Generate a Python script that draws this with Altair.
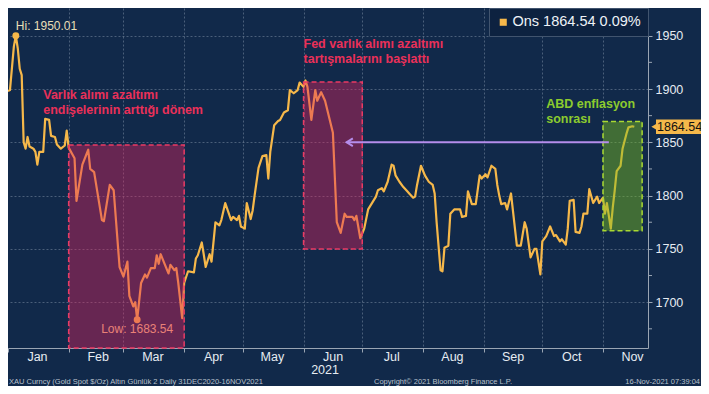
import altair as alt
import pandas as pd

# ---------------- data ----------------
dates = [
    "2021-01-01", "2021-01-02", "2021-01-04", "2021-01-05", "2021-01-06", "2021-01-07", "2021-01-08",
    "2021-01-09", "2021-01-10", "2021-01-11", "2021-01-12", "2021-01-14", "2021-01-15", "2021-01-16",
    "2021-01-17", "2021-01-19", "2021-01-20", "2021-01-22", "2021-01-23", "2021-01-25", "2021-01-26",
    "2021-01-28", "2021-01-30", "2021-01-31", "2021-02-01", "2021-02-04", "2021-02-05", "2021-02-08",
    "2021-02-11", "2021-02-12", "2021-02-14", "2021-02-18", "2021-02-19", "2021-02-22", "2021-02-24",
    "2021-02-27", "2021-03-01", "2021-03-03", "2021-03-04", "2021-03-06", "2021-03-07", "2021-03-08",
    "2021-03-10", "2021-03-12", "2021-03-13", "2021-03-15", "2021-03-17", "2021-03-18", "2021-03-19",
    "2021-03-20", "2021-03-22", "2021-03-24", "2021-03-25", "2021-03-27", "2021-03-28", "2021-03-29",
    "2021-03-31", "2021-04-01", "2021-04-03", "2021-04-06", "2021-04-07", "2021-04-08", "2021-04-10",
    "2021-04-11", "2021-04-12", "2021-04-14", "2021-04-15", "2021-04-17", "2021-04-19", "2021-04-20",
    "2021-04-22", "2021-04-25", "2021-04-26", "2021-04-28", "2021-04-29", "2021-04-30", "2021-05-02",
    "2021-05-03", "2021-05-05", "2021-05-06", "2021-05-07", "2021-05-09", "2021-05-11", "2021-05-13",
    "2021-05-14", "2021-05-15", "2021-05-17", "2021-05-19", "2021-05-20", "2021-05-22", "2021-05-24",
    "2021-05-25", "2021-05-27", "2021-05-29", "2021-05-30", "2021-06-01", "2021-06-02", "2021-06-03",
    "2021-06-05", "2021-06-07", "2021-06-08", "2021-06-10", "2021-06-12", "2021-06-16", "2021-06-18",
    "2021-06-20", "2021-06-22", "2021-06-23", "2021-06-26", "2021-06-27", "2021-06-28", "2021-06-30",
    "2021-07-02", "2021-07-04", "2021-07-08", "2021-07-09", "2021-07-11", "2021-07-12", "2021-07-14",
    "2021-07-16", "2021-07-17", "2021-07-18", "2021-07-20", "2021-07-22", "2021-07-24", "2021-07-25",
    "2021-07-27", "2021-07-28", "2021-07-29", "2021-07-31", "2021-08-02", "2021-08-04", "2021-08-06",
    "2021-08-07", "2021-08-08", "2021-08-10", "2021-08-11", "2021-08-12", "2021-08-14", "2021-08-15",
    "2021-08-17", "2021-08-20", "2021-08-21", "2021-08-23", "2021-08-24", "2021-08-26", "2021-08-28",
    "2021-08-30", "2021-08-31", "2021-09-02", "2021-09-03", "2021-09-05", "2021-09-07", "2021-09-08",
    "2021-09-09", "2021-09-10", "2021-09-12", "2021-09-13", "2021-09-15", "2021-09-18", "2021-09-20",
    "2021-09-22", "2021-09-23", "2021-09-25", "2021-09-27", "2021-09-28", "2021-09-30", "2021-10-01",
    "2021-10-03", "2021-10-05", "2021-10-07", "2021-10-08", "2021-10-10", "2021-10-11", "2021-10-13",
    "2021-10-14", "2021-10-15", "2021-10-17", "2021-10-18", "2021-10-20", "2021-10-21", "2021-10-22",
    "2021-10-24", "2021-10-25", "2021-10-27", "2021-10-29", "2021-10-30", "2021-11-01", "2021-11-02",
    "2021-11-03", "2021-11-05", "2021-11-06", "2021-11-07", "2021-11-08", "2021-11-10", "2021-11-11",
    "2021-11-13", "2021-11-14", "2021-11-16", "2021-11-17",
]
prices = [
    1898, 1899, 1940, 1950.01, 1938, 1919, 1913,
    1850, 1844, 1855, 1846, 1844, 1841, 1829,
    1841, 1841, 1872, 1871, 1856, 1855, 1848,
    1844, 1847, 1861, 1845, 1835, 1795, 1829,
    1843, 1825, 1822, 1777, 1776, 1810, 1805,
    1733, 1724, 1738, 1706, 1696, 1700, 1683.54,
    1718, 1726, 1723, 1732, 1732, 1744, 1736,
    1745, 1736, 1727, 1735, 1730, 1732, 1718,
    1685, 1718, 1729, 1728, 1741, 1744, 1756,
    1745, 1733, 1745, 1738, 1775, 1772, 1777,
    1793, 1777, 1780, 1777, 1781, 1771, 1769,
    1793, 1778, 1786, 1800, 1826, 1837, 1838,
    1816, 1841, 1866, 1870, 1871, 1878, 1880,
    1899, 1896, 1899, 1906, 1902, 1908, 1902,
    1871, 1899, 1889, 1897, 1889, 1859, 1775,
    1765, 1783, 1780, 1780, 1777, 1781, 1760,
    1769, 1787, 1799, 1805, 1807, 1804, 1813,
    1829, 1828, 1819, 1813, 1808, 1804, 1802,
    1798, 1799, 1810, 1828, 1819, 1813, 1810,
    1802, 1775, 1730, 1729, 1751, 1753, 1783,
    1787, 1787, 1780, 1781, 1804, 1792, 1792,
    1819, 1816, 1820, 1817, 1828, 1825, 1810,
    1800, 1792, 1793, 1787, 1802, 1753, 1753,
    1775, 1769, 1742, 1750, 1750, 1726, 1757,
    1762, 1771, 1762, 1763, 1757, 1759, 1754,
    1769, 1795, 1796, 1766, 1765, 1771, 1783,
    1783, 1806, 1793, 1799, 1793, 1798, 1783,
    1793, 1769, 1789, 1805, 1823, 1828, 1844,
    1858, 1864, 1865, 1864.54,
]
series_label = "Ons 1864.54 0.09%"

hilo_dates = ["2021-01-05", "2021-03-08"]
hilo_prices = [1950.01, 1683.54]
hilo_texts = ["Hi: 1950.01", "Low: 1683.54"]

red_starts = ["2021-02-01", "2021-06-01"]
red_ends = ["2021-04-01", "2021-07-01"]
red_lows = [1657, 1750]
red_highs = [1847.5, 1906.5]

green_starts = ["2021-11-01"]
green_ends = ["2021-11-21"]
green_lows = [1767]
green_highs = [1869.5]

arrow_from = ["2021-11-04"]
arrow_to = ["2021-06-23"]
arrow_head = ["2021-06-25"]
arrow_level = [1850]

red_note_dates = ["2021-01-19", "2021-06-01"]
red_note_prices = [1900, 1948]
red_note_texts = ["Varlık alımı azaltımı\nendişelerinin arttığı dönem",
                  "Fed varlık alımı azaltımı\ntartışmalarını başlattı"]
green_note_dates = ["2021-10-03"]
green_note_prices = [1892]
green_note_texts = ["ABD enflasyon\nsonrası"]

month_ticks = list(range(1, 12))
y_major = [1700, 1750, 1800, 1850, 1900, 1950]
y_minor = [1675, 1725, 1775, 1825, 1875, 1925]
y_domain = [1657, 1976]

last_price = [1864.54]
tag_lo = [1857.8]
tag_hi = [1871.3]
tag_text = ["1864.54"]

year_date = ["2021-06-12"]
year_text = ["2021"]

footer_left = "XAU Curncy (Gold Spot   $/Oz) Altın Günlük 2  Daily 31DEC2020-16NOV2021"
footer_mid = "Copyright© 2021 Bloomberg Finance L.P."
footer_right = "16-Nov-2021 07:39:04"

# ---------------- style ----------------
W, H = 640, 340
BG = "#11294A"
GOLD = "#F6B84A"
RED_FILL = "#E0245E"
RED_LINE = "#EA3A63"
GREEN_FILL = "#7DC21E"
GREEN_LINE = "#A9D932"
RED_TEXT = "#EA3059"
GREEN_TEXT = "#8CCB2E"
PURPLE = "#B58DEB"
FONT = "Liberation Sans"
AX = "#E6ECF2"
TICK = "#9AA5B3"

line_df = pd.DataFrame({"date": dates, "price": prices, "series": series_label})
hilo_df = pd.DataFrame({"date": hilo_dates, "price": hilo_prices, "text": hilo_texts})
red_df = pd.DataFrame({"start": red_starts, "end": red_ends, "lo": red_lows, "hi": red_highs})
green_df = pd.DataFrame({"start": green_starts, "end": green_ends, "lo": green_lows, "hi": green_highs})
arrow_df = pd.DataFrame({"from": arrow_from, "to": arrow_to, "head": arrow_head, "level": arrow_level})
rnote_df = pd.DataFrame({"date": red_note_dates, "price": red_note_prices, "text": red_note_texts})
gnote_df = pd.DataFrame({"date": green_note_dates, "price": green_note_prices, "text": green_note_texts})
tag_df = pd.DataFrame({"price": last_price, "lo": tag_lo, "hi": tag_hi, "text": tag_text})
year_df = pd.DataFrame({"date": year_date, "text": year_text})
minor_df = pd.DataFrame({"price": y_minor})
foot_df = pd.DataFrame({"text": [footer_left]})
foot_df2 = pd.DataFrame({"text": [footer_mid]})
foot_df3 = pd.DataFrame({"text": [footer_right]})

xs = alt.Scale(type="utc", domain=[alt.DateTime(year=2021, month=1, date=1, utc=True),
                                   alt.DateTime(year=2021, month=11, date=24, utc=True)])
ys = alt.Scale(domain=y_domain, nice=False, zero=False)

xaxis = alt.Axis(
    values=[alt.DateTime(year=2021, month=m, date=1, utc=True) for m in month_ticks],
    format="%b", labelOffset=29, labelFlush=False, labelOverlap=False, labelBound=False,
    tickSize=4, labelPadding=-2, labelFontSize=12.5, title=None,
    gridOpacity={"condition": {"test": "utcmonth(datum.value) === 0", "value": 0}, "value": 0.55},
)
yaxis = alt.Axis(
    orient="right", values=y_major, format="d", tickSize=4, labelPadding=3, labelFontSize=12.5,
    title=None, grid=True, gridOpacity=0.55,
)

X = alt.X("date:T", scale=xs, axis=xaxis, title=None)
Y = alt.Y("price:Q", scale=ys, axis=yaxis, title=None)

line = alt.Chart(line_df).mark_line(strokeWidth=2.2, strokeJoin="round").encode(
    x=X, y=Y,
    color=alt.Color("series:N", scale=alt.Scale(range=[GOLD]),
                    legend=alt.Legend(title=None, orient="top-right", offset=0,
                                      fillColor="#0D2240", strokeColor="#41546E", padding=7,
                                      labelFontSize=14.5, labelColor="#EEF2F7", labelFont=FONT,
                                      symbolType="square", symbolSize=50, symbolFillColor=GOLD,
                                      symbolStrokeColor=GOLD, symbolStrokeWidth=0, labelOffset=2)),
)

minor_ticks = alt.Chart(minor_df).mark_rule(color=TICK, strokeWidth=1).encode(
    x=alt.value(W), x2=alt.value(W + 4), y="price:Q")

hilo_pts = alt.Chart(hilo_df).mark_circle(size=48, color=GOLD, opacity=1).encode(
    x="date:T", y="price:Q")
hi_txt = alt.Chart(hilo_df.iloc[[0]]).mark_text(
    align="left", baseline="bottom", dy=-3, fontSize=12, font=FONT, color="#E8DFB6").encode(
    x="date:T", y="price:Q", text="text:N")
lo_txt = alt.Chart(hilo_df.iloc[[1]]).mark_text(
    align="center", baseline="top", dy=4, fontSize=12, font=FONT, color="#F2C48A").encode(
    x="date:T", y="price:Q", text="text:N")

red_box = alt.Chart(red_df).mark_rect(
    fill=RED_FILL, fillOpacity=0.42, stroke=RED_LINE, strokeDash=[5, 3], strokeWidth=1.5).encode(
    x="start:T", x2="end:T", y="lo:Q", y2="hi:Q")
green_box = alt.Chart(green_df).mark_rect(
    fill=GREEN_FILL, fillOpacity=0.45, stroke=GREEN_LINE, strokeDash=[5, 3], strokeWidth=1.5).encode(
    x="start:T", x2="end:T", y="lo:Q", y2="hi:Q")

arrow = alt.Chart(arrow_df).mark_rule(color=PURPLE, strokeWidth=2).encode(
    x="from:T", x2="to:T", y="level:Q")
arrow_tip = alt.Chart(arrow_df).mark_point(
    shape="M0.6,-1L-1,0L0.6,1", filled=False, color=PURPLE, strokeWidth=2, size=60, opacity=1).encode(
    x="head:T", y="level:Q")

rnote = alt.Chart(rnote_df).mark_text(
    align="left", baseline="top", lineBreak="\n", lineHeight=15, fontSize=12.5,
    fontWeight="bold", font=FONT, color=RED_TEXT).encode(x="date:T", y="price:Q", text="text:N")
gnote = alt.Chart(gnote_df).mark_text(
    align="left", baseline="top", lineBreak="\n", lineHeight=15, fontSize=12.5,
    fontWeight="bold", font=FONT, color=GREEN_TEXT).encode(x="date:T", y="price:Q", text="text:N")

tag_rect = alt.Chart(tag_df).mark_rect(color=GOLD).encode(
    x=alt.value(W + 8), x2=alt.value(W + 53), y="lo:Q", y2="hi:Q")
tag_tip = alt.Chart(tag_df).mark_point(shape="triangle-left", filled=True, color=GOLD, size=70,
                                       opacity=1).encode(x=alt.value(W + 7), y="price:Q")
tag_txt = alt.Chart(tag_df).mark_text(align="left", baseline="middle", fontSize=12.5, font=FONT,
                                      color="#111111").encode(
    x=alt.value(W + 9), y="price:Q", text="text:N")

year_txt = alt.Chart(year_df).mark_text(align="center", baseline="middle", fontSize=12.5, font=FONT,
                                        color=AX).encode(
    x="date:T", y=alt.value(H + 22), text="text:N")

foot1 = alt.Chart(foot_df).mark_text(align="left", baseline="middle", fontSize=7.5, font=FONT,
                                     color="#B9C1CC").encode(
    x=alt.value(1), y=alt.value(H + 33.5), text="text:N")
foot2 = alt.Chart(foot_df2).mark_text(align="left", baseline="middle", fontSize=7.5, font=FONT,
                                      color="#B9C1CC").encode(
    x=alt.value(366), y=alt.value(H + 33.5), text="text:N")
foot3 = alt.Chart(foot_df3).mark_text(align="right", baseline="middle", fontSize=7.5, font=FONT,
                                      color="#B9C1CC").encode(
    x=alt.value(W + 52), y=alt.value(H + 33.5), text="text:N")

chart = alt.layer(
    line, minor_ticks, hilo_pts, hi_txt, lo_txt, red_box, green_box, arrow, arrow_tip, rnote, gnote,
    tag_rect, tag_tip, tag_txt, year_txt, foot1, foot2, foot3,
).properties(
    width=W, height=H, background=BG,
    autosize=alt.AutoSizeParams(type="none"),
    padding={"left": 0, "top": 0, "right": 53, "bottom": 38},
).configure_view(stroke=None).configure_axis(
    labelColor=AX, labelFont=FONT, tickColor=TICK, domainColor=TICK,
    gridColor="#7A8CA3", gridDash=[2, 2], gridWidth=1,
)

chart.save("out.html", embed_options={"renderer": "svg", "actions": False})
